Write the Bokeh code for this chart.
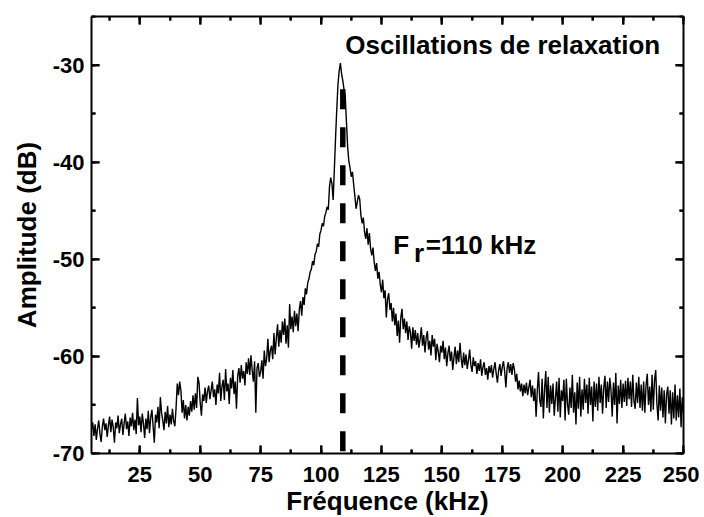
import math
from bokeh.plotting import figure
from bokeh.models import (LinearAxis, SingleIntervalTicker, Label, Range1d,
                          CustomJSTickFormatter, CustomLabelingPolicy)
from bokeh.embed import file_html
from bokeh.resources import INLINE

# ---------------- data ----------------
freq_start = 5.0   # kHz
freq_step = 0.5    # kHz
amplitude_db = [
    -67.5, -66.8, -68.2, -67.0, -68.6, -67.4, -66.6, -68.0, -68.8, -67.2,
    -66.4, -67.6, -66.9, -68.3, -67.1, -66.2, -67.8, -66.5, -67.3, -68.9,
    -66.8, -67.4, -66.1, -67.9, -67.0, -66.4, -68.1, -66.9, -65.9, -67.5,
    -66.7, -68.2, -66.3, -67.2, -65.8, -67.6, -66.5, -68.0, -64.3, -67.1,
    -66.2, -67.8, -65.9, -66.9, -68.4, -66.4, -67.5, -65.6, -67.9, -66.3,
    -65.5, -67.2, -68.9, -66.0, -66.8, -65.2, -67.4, -64.2, -65.8, -66.6,
    -67.6, -65.7, -66.9, -65.1, -67.3, -66.0, -67.0, -65.4, -66.7, -67.2,
    -65.3, -62.8, -64.0, -62.6, -63.5, -65.8, -64.5, -66.4, -65.0, -66.6,
    -65.2, -66.1, -64.6, -65.7, -64.0, -65.5, -63.8, -65.3, -62.1, -62.7,
    -64.8, -66.1, -63.9, -64.6, -63.2, -64.8, -63.6, -63.0, -64.4, -63.5,
    -62.6, -64.2, -63.4, -65.0, -62.9, -63.8, -61.7, -64.6, -63.1, -62.4,
    -64.5, -61.3, -63.6, -62.8, -64.9, -62.2, -63.3, -61.4, -63.9, -62.6,
    -65.4, -62.0, -61.2, -62.7, -60.9, -62.3, -61.5, -63.0, -60.6, -61.8,
    -60.2, -61.9, -59.9, -61.4, -62.6, -60.5, -65.8, -61.2, -60.7, -62.1,
    -61.6, -60.4, -62.3, -59.4, -61.0, -60.2, -58.2, -60.6, -59.4, -58.9,
    -60.3, -57.6, -59.8, -58.1, -56.7, -59.0, -57.3, -58.6, -56.4, -57.8,
    -56.1, -58.7, -56.8, -59.1, -54.6, -57.2, -55.9, -57.5, -55.3, -56.9,
    -55.6, -57.4, -55.2, -54.3, -55.8, -53.9, -54.7, -53.0, -53.6, -52.4,
    -52.0, -51.3, -51.0, -50.2, -50.6, -49.5, -49.2, -48.4, -48.7, -47.4,
    -47.0, -46.3, -46.6, -45.6, -45.2, -44.6, -44.9, -42.5, -41.6, -42.2,
    -43.9, -40.8, -37.5, -34.6, -32.0, -30.6, -29.8, -30.9, -31.6, -32.5,
    -33.2, -35.8, -38.4, -39.9, -40.6, -41.5, -41.0, -42.3, -43.5, -44.8,
    -44.1, -43.4, -43.8, -45.5, -46.3, -45.7, -47.2, -47.9, -46.8, -48.5,
    -47.3, -48.9, -49.6, -48.8, -50.3, -51.2, -50.4, -52.0, -51.3, -52.6,
    -53.4, -52.1, -54.0, -53.2, -56.0, -54.1, -53.5, -55.2, -54.5, -56.4,
    -55.0, -56.8, -55.6, -57.9, -56.3, -58.6, -56.0, -55.1, -57.2, -56.1,
    -57.6, -56.4, -58.3, -56.9, -57.5, -59.2, -57.0, -58.4, -57.3, -58.8,
    -57.6, -59.1, -58.2, -57.0, -58.9, -57.8, -59.6, -58.1, -57.4, -59.3,
    -58.4, -59.9, -57.8, -59.0, -58.2, -60.4, -58.7, -59.5, -60.6, -58.9,
    -59.6, -58.4, -60.3, -59.1, -61.0, -59.7, -58.9, -60.5, -59.5, -61.4,
    -60.1, -59.0, -60.8, -59.4, -60.6, -58.6, -60.2, -61.2, -59.6, -60.9,
    -59.8, -61.3, -60.4, -59.3, -60.9, -61.6, -60.1, -61.0, -60.5, -61.8,
    -60.7, -61.5, -60.3, -62.0, -61.1, -60.6, -61.9, -61.2, -62.4, -61.0,
    -61.7, -60.9, -62.2, -61.3, -60.6, -61.8, -62.7, -61.4, -60.8, -62.0,
    -61.1, -60.5, -61.6, -63.2, -61.2, -60.6, -61.7, -60.8, -61.9, -60.7,
    -61.3, -62.6, -61.8, -63.4, -62.5, -63.6, -62.8, -64.1, -62.9, -63.8,
    -62.7, -64.0, -63.2, -62.4, -64.2, -63.0, -64.6, -63.3, -66.2, -63.5,
    -61.6, -64.5, -65.2, -62.3, -66.4, -63.4, -61.5, -65.3, -62.1, -65.8,
    -63.0, -64.9, -62.8, -66.1, -64.3, -62.6, -65.7, -62.2, -66.3, -63.5,
    -64.6, -62.4, -66.6, -62.3, -64.9, -66.0, -63.2, -65.3, -61.9, -65.8,
    -63.7, -67.0, -62.7, -65.4, -62.1, -66.2, -63.4, -65.5, -62.3, -64.8,
    -62.9, -65.9, -62.2, -65.0, -63.1, -66.7, -62.6, -65.2, -62.8, -65.6,
    -62.1, -64.8, -62.9, -65.9, -63.2, -62.0, -65.3, -62.6, -64.7, -62.2,
    -63.5, -66.2, -62.7, -65.0, -61.7, -66.9, -63.0, -64.9, -62.4, -65.3,
    -62.8, -64.7, -62.5, -65.1, -62.2, -64.4, -62.6, -65.2, -61.9, -64.6,
    -65.4, -62.7, -64.8, -62.1, -65.3, -62.9, -65.6, -62.6, -65.8, -63.0,
    -61.8, -65.0, -63.1, -65.7, -61.9, -65.5, -62.5, -61.4, -64.9, -66.6,
    -63.0, -65.6, -63.2, -66.3, -63.5, -66.9, -63.9, -63.1, -65.9, -63.5,
    -67.0, -63.7, -66.4, -62.9, -66.6, -64.0, -66.3, -63.3, -67.3, -64.2,
    -65.9,
]
freq_khz = [freq_start + i * freq_step for i in range(len(amplitude_db))]

x_limits = (5, 250)
y_limits = (-70, -25)
x_tick_interval = 25
y_tick_interval = 10
x_major_ticks = [25, 50, 75, 100, 125, 150, 175, 200, 225, 250]
x_minor_ticks = [12.5, 37.5, 62.5, 87.5, 112.5, 137.5, 162.5, 187.5, 212.5, 237.5]
y_major_ticks = [-70, -60, -50, -40, -30]
y_minor_ticks = [-65, -55, -45, -35, -25]

fr_line_x = [109, 109]
fr_line_y = [-32.5, -70]

title_text = "Oscillations de relaxation"
title_pos = (110, -27.95)
fr_main = "F"
fr_sub = "r"
fr_rest = "=110 kHz"
fr_main_pos = (129.9, -48.5)
fr_sub_pos = (138.5, -49.4)
fr_rest_pos = (143.3, -48.5)

FONT = "Liberation Sans"

# ---------------- figure ----------------
p = figure(
    frame_width=592, frame_height=437,
    min_border_left=91, min_border_right=16,
    min_border_top=16, min_border_bottom=60,
    x_range=Range1d(*x_limits), y_range=Range1d(*y_limits),
    output_backend="svg", toolbar_location=None,
    x_axis_label="Fréquence (kHz)", y_axis_label="Amplitude (dB)",
)
p.background_fill_color = "white"
p.background_fill_alpha = 0.0
p.border_fill_color = "white"
p.outline_line_color = None
p.xgrid.visible = False
p.ygrid.visible = False

plain_fmt = CustomJSTickFormatter(code="return String(tick)")
hide_all = CustomLabelingPolicy(
    code="for (let i = 0; i < indices.size; i++) { indices.unset(i) } return indices")

def style_axis(ax, labels=True):
    ax.axis_line_width = 2
    ax.axis_line_color = "black"
    ax.major_tick_in = 8
    ax.major_tick_out = 0
    ax.minor_tick_in = 4
    ax.minor_tick_out = 0
    ax.major_tick_line_width = 2
    ax.minor_tick_line_width = 2
    ax.major_tick_line_color = "black"
    ax.minor_tick_line_color = "black"
    ax.major_label_text_font = FONT
    ax.major_label_text_font_style = "bold"
    ax.major_label_text_color = "black"
    ax.formatter = plain_fmt
    if labels:
        ax.major_label_text_font_size = "22px"
        ax.major_label_standoff = 7
    else:
        ax.major_label_text_font_size = "1px"
        ax.major_label_standoff = 0
        ax.major_label_policy = hide_all
    ax.axis_label_text_font = FONT
    ax.axis_label_text_font_style = "bold"
    ax.axis_label_text_font_size = "26px"
    ax.axis_label_text_color = "black"

p.xaxis.ticker = SingleIntervalTicker(interval=x_tick_interval, num_minor_ticks=2)
p.yaxis.ticker = SingleIntervalTicker(interval=y_tick_interval, num_minor_ticks=2)
for ax in p.xaxis + p.yaxis:
    style_axis(ax, True)
p.xaxis.major_label_standoff = 13
p.xaxis.axis_label_standoff = 1
p.yaxis.axis_label_standoff = 8

top_ax = LinearAxis(ticker=SingleIntervalTicker(interval=x_tick_interval, num_minor_ticks=2))
right_ax = LinearAxis(ticker=SingleIntervalTicker(interval=y_tick_interval, num_minor_ticks=2))
style_axis(top_ax, False)
style_axis(right_ax, False)
p.add_layout(top_ax, "above")
p.add_layout(right_ax, "right")

# inward tick marks (markers centred on the frame edge; the outer half is clipped)
for xs, sz in ((x_major_ticks, 16), (x_minor_ticks, 8)):
    for yv in y_limits:
        p.scatter(xs, [yv] * len(xs), marker="dash", size=sz, angle=math.pi / 2,
                  line_color="black", line_width=2)
for ys, sz in ((y_major_ticks, 16), (y_minor_ticks, 8)):
    for xv in x_limits:
        p.scatter([xv] * len(ys), ys, marker="dash", size=sz, angle=0,
                  line_color="black", line_width=2)

# spectrum
p.line(freq_khz, amplitude_db, line_color="black", line_width=1.4)

# resonance marker
p.line(fr_line_x, fr_line_y, line_color="black", line_width=5.5,
       line_dash="20 18", line_cap="butt")

def add_label(txt, pos, size="26px"):
    p.add_layout(Label(x=pos[0], y=pos[1], text=txt, text_font=FONT,
                       text_font_style="bold", text_font_size=size,
                       text_color="black", text_baseline="alphabetic",
                       text_align="left"))

add_label(title_text, title_pos)
add_label(fr_main, fr_main_pos)
add_label(fr_sub, fr_sub_pos)
add_label(fr_rest, fr_rest_pos)

open("out.html", "w").write(file_html(p, INLINE))
